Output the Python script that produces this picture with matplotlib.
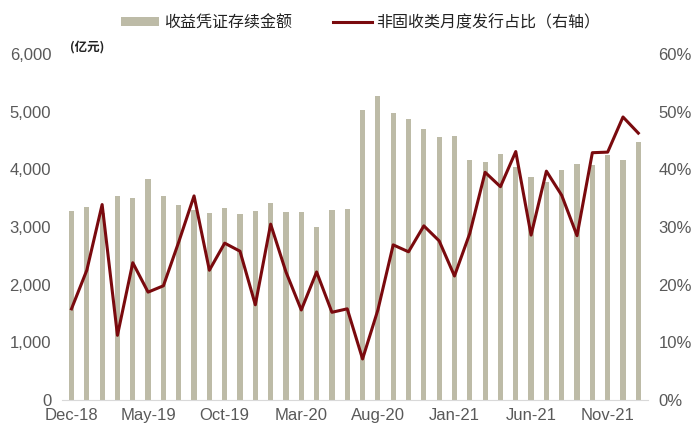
import matplotlib
matplotlib.use("Agg")
import matplotlib.pyplot as plt
import numpy as np
from matplotlib.ticker import FuncFormatter

plt.rcParams['font.family'] = ['Liberation Sans', 'Noto Sans CJK SC', 'DejaVu Sans']

# monthly data, Dec-18 .. Jan-22
months = ['Dec-18', 'Jan-19', 'Feb-19', 'Mar-19', 'Apr-19', 'May-19', 'Jun-19', 'Jul-19',
          'Aug-19', 'Sep-19', 'Oct-19', 'Nov-19', 'Dec-19', 'Jan-20', 'Feb-20', 'Mar-20',
          'Apr-20', 'May-20', 'Jun-20', 'Jul-20', 'Aug-20', 'Sep-20', 'Oct-20', 'Nov-20',
          'Dec-20', 'Jan-21', 'Feb-21', 'Mar-21', 'Apr-21', 'May-21', 'Jun-21', 'Jul-21',
          'Aug-21', 'Sep-21', 'Oct-21', 'Nov-21', 'Dec-21', 'Jan-22']
balance = [3275, 3340, 3250, 3540, 3505, 3825, 3535, 3390, 3300, 3245, 3325, 3220,
           3275, 3425, 3265, 3255, 3005, 3300, 3315, 5025, 5275, 4985, 4880, 4700,
           4560, 4575, 4160, 4135, 4265, 4045, 3870, 3785, 3990, 4095, 4080, 4245,
           4160, 4470]
ratio = [15.8, 22.5, 33.9, 11.2, 23.8, 18.7, 19.8, 27.4, 35.4, 22.5, 27.2, 25.8,
         16.5, 30.5, 22.2, 15.6, 22.2, 15.2, 15.8, 7.1, 15.6, 26.9, 25.7, 30.2,
         27.6, 21.5, 28.9, 39.5, 37.0, 43.1, 28.6, 39.7, 35.5, 28.5, 42.9, 43.0,
         49.1, 46.3]

bar_color = '#BDBBA7'
line_color = '#7A0A0E'
text_color = '#595959'

fig = plt.figure(figsize=(7, 4.37), dpi=100)
ax = fig.add_axes([0.089, 0.085, 0.836, 0.791])
ax2 = ax.twinx()

x = np.arange(len(months))
bars = ax.bar(x, balance, width=0.34, color=bar_color, zorder=2)
line, = ax2.plot(x, ratio, color=line_color, lw=2.2, zorder=3)

ax.set_xlim(-0.6, len(months) - 0.4)
ax.set_ylim(0, 6000)
ax.set_yticks(np.arange(0, 6001, 1000))
ax.yaxis.set_major_formatter(FuncFormatter(lambda v, p: f'{int(v):,}'))
ax2.set_ylim(0, 60)
ax2.set_yticks(np.arange(0, 61, 10))
ax2.yaxis.set_major_formatter(FuncFormatter(lambda v, p: f'{int(v)}%'))

ax.set_xticks(x[::5])
ax.set_xticklabels(months[::5])

for a in (ax, ax2):
    for s in a.spines.values():
        s.set_visible(False)
    a.tick_params(length=0, labelsize=12, labelcolor=text_color)
ax.spines['bottom'].set_visible(True)
ax.spines['bottom'].set_color('#D9D9D9')
ax.tick_params(axis='y', pad=8)
ax.tick_params(axis='x', pad=6)
ax2.tick_params(axis='y', pad=8)

ax.set_zorder(ax2.get_zorder() - 1)
ax2.patch.set_visible(False)

fig.text(0.1, 0.885, '(亿元)', fontsize=9, fontweight='bold', color='#222222',
         family=['Noto Sans CJK SC', 'DejaVu Sans'])

fig.legend([bars, line], ['收益凭证存续金额', '非固收类月度发行占比（右轴）'],
           loc='center', bbox_to_anchor=(0.515, 0.948), ncol=2, frameon=False,
           prop={'family': ['Noto Sans CJK SC', 'DejaVu Sans'], 'size': 11.5},
           handlelength=2.4, handleheight=0.5, columnspacing=2.6, handletextpad=0.3,
           labelcolor='#222222')

fig.savefig('out.png', dpi=100)
